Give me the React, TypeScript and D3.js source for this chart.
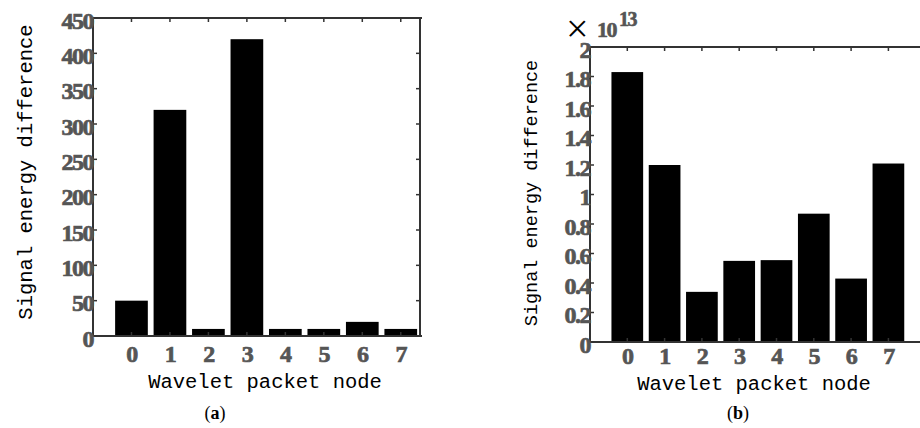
import React from 'react';
import * as d3 from 'd3';

// values
const nodes = [0, 1, 2, 3, 4, 5, 6, 7];
const energyA = [50, 320, 10, 420, 10, 10, 20, 10];
const energyB = [1.83, 1.2, 0.34, 0.55, 0.555, 0.87, 0.43, 1.21]; // x 10^13
const yTicksA = [0, 50, 100, 150, 200, 250, 300, 350, 400, 450];
const yTicksB = [0, 0.2, 0.4, 0.6, 0.8, 1, 1.2, 1.4, 1.6, 1.8, 2];

const AXIS = '#333';
const TICK_TEXT = '#555';
const SERIF = '"Liberation Serif", "Times New Roman", serif';
const MONO = '"Liberation Mono", "DejaVu Sans Mono", monospace';

function TickText({ x, y, anchor, dy = null, children }) {
  return (
    <text
      x={x}
      y={y}
      dy={dy}
      textAnchor={anchor}
      fontFamily={SERIF}
      fontWeight="bold"
      fontSize={24}
      letterSpacing={-1.5}
      fill={TICK_TEXT}
      stroke={TICK_TEXT}
      strokeWidth={0.7}
    >
      {children}
    </text>
  );
}

function Panel({
  values,
  yTicks,
  yMax,
  left,
  right,
  top,
  bottom,
  xMax,
  yLabelX,
  yLabelY,
  yLabelSize,
  xLabelX,
  xLabelY,
  caption,
  captionX,
  tickLabelY,
}) {
  const x = d3.scaleLinear().domain([-1, xMax]).range([left, right]);
  const y = d3.scaleLinear().domain([0, yMax]).range([bottom, top]);
  const step = x(1) - x(0);
  const bw = step * 0.85;
  const clipRight = Math.min(right, 919);

  return (
    <g>
      {/* bars */}
      {values.map((v, i) => (
        <rect
          key={i}
          x={x(nodes[i]) - bw / 2}
          y={y(v)}
          width={bw}
          height={y(0) - y(v)}
          fill="#000"
        />
      ))}

      {/* box */}
      <line x1={left} x2={clipRight + 2} y1={top} y2={top} stroke={AXIS} strokeWidth={2} />
      <line x1={left} x2={clipRight + 2} y1={bottom} y2={bottom} stroke={AXIS} strokeWidth={2} />
      <line x1={left} x2={left} y1={top} y2={bottom} stroke={AXIS} strokeWidth={2} />
      <line x1={right} x2={right} y1={top} y2={bottom} stroke={AXIS} strokeWidth={2} />

      {/* y ticks on both sides */}
      {yTicks.map((t) => (
        <g key={'y' + t}>
          <line x1={left} x2={left + 4} y1={y(t)} y2={y(t)} stroke={AXIS} strokeWidth={1.5} />
          <line x1={right} x2={right - 4} y1={y(t)} y2={y(t)} stroke={AXIS} strokeWidth={1.5} />
          <TickText x={left} y={y(t)} dy="0.45em" anchor="end">
            {t}
          </TickText>
        </g>
      ))}

      {/* x ticks top and bottom */}
      {nodes.map((n) => (
        <g key={'x' + n}>
          <line x1={x(n)} x2={x(n)} y1={top} y2={top + 4} stroke={AXIS} strokeWidth={1.5} />
          <line x1={x(n)} x2={x(n)} y1={bottom} y2={bottom - 4} stroke={AXIS} strokeWidth={1.5} />
          <TickText x={x(n)} y={tickLabelY} anchor="middle">
            {n}
          </TickText>
        </g>
      ))}

      {/* axis titles */}
      <text
        transform={`translate(${yLabelX},${yLabelY}) rotate(-90)`}
        textAnchor="middle"
        dy="0.35em"
        fontFamily={MONO}
        fontSize={yLabelSize}
        fill="#000"
      >
        Signal energy difference
      </text>
      <text
        x={xLabelX}
        y={xLabelY}
        textAnchor="middle"
        fontFamily={MONO}
        fontSize={20.5}
        fill="#000"
      >
        Wavelet packet node
      </text>
      <text x={captionX} y={419} textAnchor="middle" fontFamily={SERIF} fontSize={18} fill="#000">
        (<tspan fontWeight="bold">{caption}</tspan>)
      </text>
    </g>
  );
}

export default function App() {
  return (
    <svg
      width={920}
      height={428}
      style={{ position: 'absolute', left: 0, top: 0, background: '#fff' }}
    >
      <rect width={920} height={428} fill="#fff" />
      <Panel
        values={energyA}
        yTicks={yTicksA}
        yMax={450}
        left={93}
        right={420}
        top={18}
        bottom={336}
        xMax={7.5}
        yLabelX={25}
        yLabelY={172}
        yLabelSize={20.5}
        xLabelX={265}
        xLabelY={388}
        caption="a"
        captionX={215}
        tickLabelY={362}
      />
      <Panel
        values={energyB}
        yTicks={yTicksB}
        yMax={2}
        left={590}
        right={925.7}
        top={47}
        bottom={342}
        xMax={8}
        yLabelX={531}
        yLabelY={193}
        yLabelSize={18.5}
        xLabelX={754}
        xLabelY={390}
        caption="b"
        captionX={738}
        tickLabelY={364}
      />
      {/* exponent marker of panel (b) */}
      <text x={566} y={42} fontFamily={SERIF} fontSize={40} fill="#000">
        ×
      </text>
      <text
        x={597}
        y={37}
        fontFamily={SERIF}
        fontWeight="bold"
        fontSize={22}
        fill={TICK_TEXT}
        stroke={TICK_TEXT}
        strokeWidth={0.6}
        letterSpacing={-1.5}
      >
        10
      </text>
      <text
        x={619}
        y={26}
        fontFamily={SERIF}
        fontWeight="bold"
        fontSize={20}
        fill={TICK_TEXT}
        stroke={TICK_TEXT}
        strokeWidth={0.6}
        letterSpacing={-1.5}
      >
        13
      </text>
    </svg>
  );
}
